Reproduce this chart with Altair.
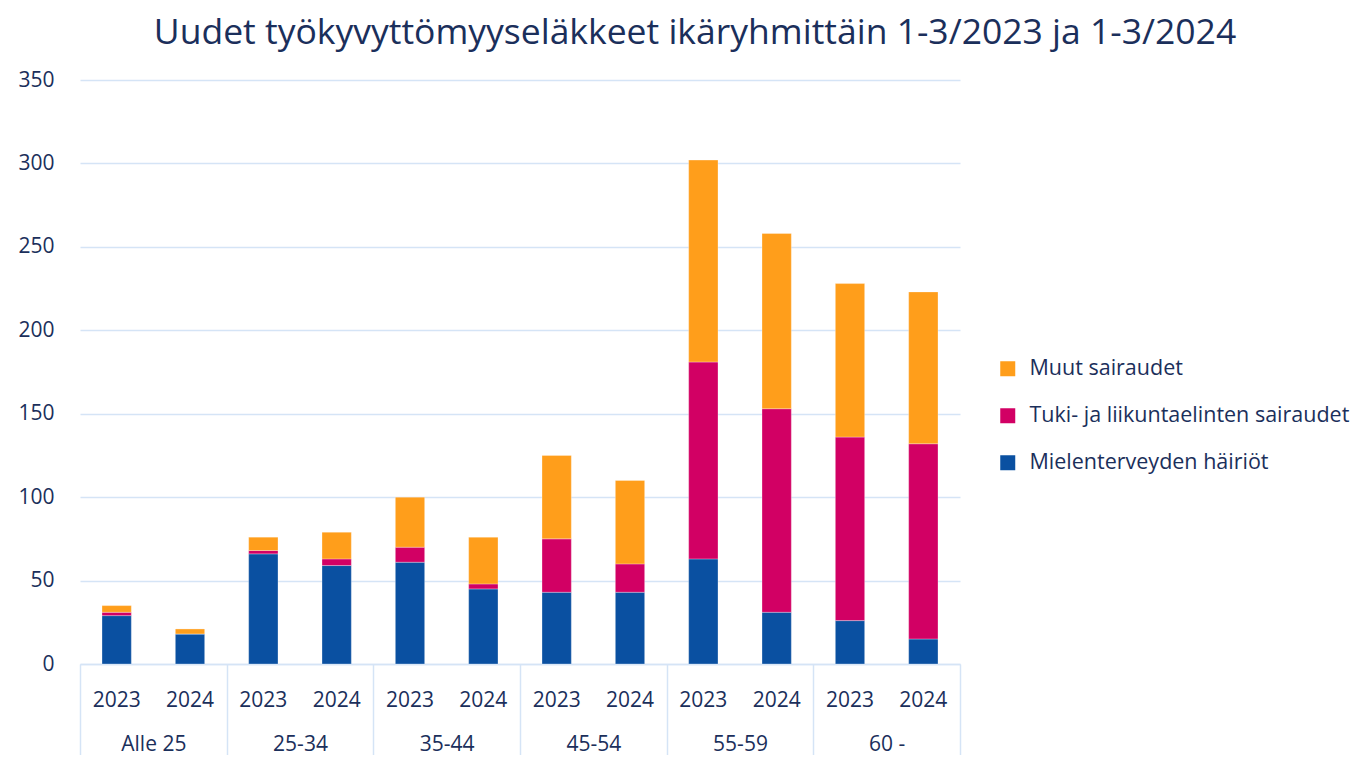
import altair as alt
import pandas as pd

groups = ["Alle 25", "25-34", "35-44", "45-54", "55-59", "60 -"]
years = ["2023", "2024"]
series = ["Muut sairaudet", "Tuki- ja liikuntaelinten sairaudet", "Mielenterveyden häiriöt"]
colors = ["#FF9E1B", "#D20064", "#0A50A1"]

# values per group/year in order: Alle25 2023, Alle25 2024, 25-34 2023, ...
mielenterveys = [29, 18, 66, 59, 61, 45, 43, 43, 63, 31, 26, 15]
tuki = [2, 0, 2, 4, 9, 3, 32, 17, 118, 122, 110, 117]
muut = [4, 3, 8, 16, 30, 28, 50, 50, 121, 105, 92, 91]

rows = []
i = 0
for g in groups:
    for y in years:
        rows.append({"group": g, "year": y, "type": series[2], "value": mielenterveys[i], "ord": 0})
        rows.append({"group": g, "year": y, "type": series[1], "value": tuki[i], "ord": 1})
        rows.append({"group": g, "year": y, "type": series[0], "value": muut[i], "ord": 2})
        i += 1
df = pd.DataFrame(rows)
labels_df = pd.DataFrame([{"group": g, "year": y} for g in groups for y in years])

TEXT = "#1B2F5B"
GRID = "#D5E4F6"
FONT = "Open Sans"
W, H = 880, 584

xenc = alt.X(
    "group:N",
    sort=groups,
    scale=alt.Scale(paddingInner=0, paddingOuter=0),
    axis=alt.Axis(
        title=None,
        labelAngle=0,
        labelFontSize=21,
        labelFont=FONT,
        labelColor=TEXT,
        labelPadding=-22,
        domainColor=GRID,
        domainWidth=1.5,
        tickColor=GRID,
        tickWidth=1.5,
        tickSize=91,
        tickBand="extent",
    ),
)

bars = alt.Chart(df).mark_bar(stroke="white", strokeWidth=0.6, strokeOpacity=0.5).encode(
    x=xenc,
    xOffset=alt.XOffset("year:N", sort=years, scale=alt.Scale(paddingInner=0.6, paddingOuter=0.3)),
    y=alt.Y(
        "sum(value):Q",
        scale=alt.Scale(domain=[0, 350], nice=False),
        axis=alt.Axis(
            title=None,
            values=[0, 50, 100, 150, 200, 250, 300, 350],
            domain=False,
            ticks=False,
            labelFontSize=21,
            labelFont=FONT,
            labelColor=TEXT,
            labelPadding=26,
            gridColor=GRID,
            gridWidth=1.5,
        ),
    ),
    color=alt.Color(
        "type:N",
        scale=alt.Scale(domain=series, range=colors),
        legend=alt.Legend(
            title=None,
            orient="none",
            legendX=917,
            legendY=278,
            symbolType="square",
            symbolSize=225,
            symbolStrokeWidth=0,
            labelFontSize=21.5,
            labelFont=FONT,
            labelColor=TEXT,
            labelOffset=11,
            labelLimit=0,
            rowPadding=24,
        ),
    ),
    order=alt.Order("ord:Q", sort="ascending"),
)

year_text = alt.Chart(labels_df).mark_text(
    fontSize=21, font=FONT, color=TEXT, baseline="middle"
).encode(
    x=alt.X("group:N", sort=groups),
    xOffset=alt.XOffset("year:N", sort=years),
    y=alt.value(H + 37),
    text="year:N",
)

chart = alt.layer(bars, year_text).properties(
    width=W,
    height=H,
    autosize=alt.AutoSizeParams(type="none"),
    padding={"left": 72, "top": 72, "right": 395, "bottom": 91},
    title=alt.Title(
        "Uudet työkyvyttömyyseläkkeet ikäryhmittäin 1-3/2023 ja 1-3/2024",
        fontSize=35.5,
        font=FONT,
        fontWeight="normal",
        color=TEXT,
        anchor="middle",
        dx=175,
        offset=18,
    ),
).configure_view(stroke=None)

chart.save("out.html", embed_options={"renderer": "svg", "actions": False})
